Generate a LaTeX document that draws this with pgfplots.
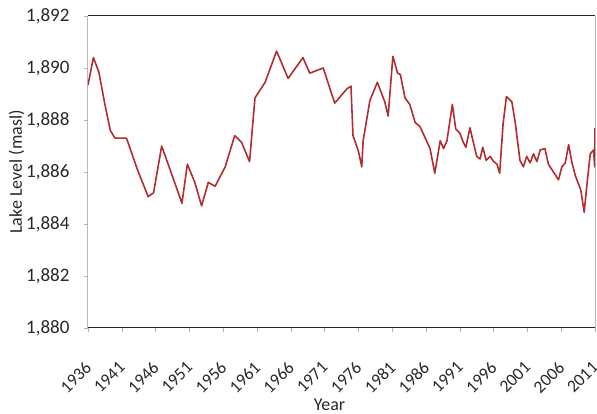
\documentclass[border=0pt]{standalone}
\usepackage{pgfplots}
\pgfplotsset{compat=1.18}
\usepackage{fontspec}
\setmainfont{Carlito}

\definecolor{lakered}{RGB}{178,44,48}
\definecolor{labelgray}{RGB}{40,40,40}

\pgfplotstableread{
year level
1936.0 1889.35
1936.8 1890.40
1937.6 1889.85
1938.5 1888.60
1939.3 1887.60
1940.0 1887.30
1941.7 1887.30
1943.3 1886.10
1944.9 1885.05
1945.7 1885.20
1946.9 1887.00
1948.4 1885.90
1949.9 1884.80
1950.7 1886.30
1951.8 1885.60
1952.8 1884.70
1953.8 1885.60
1954.8 1885.45
1956.3 1886.20
1957.7 1887.40
1958.7 1887.15
1959.9 1886.40
1960.7 1888.85
1962.2 1889.45
1963.9 1890.65
1965.6 1889.60
1967.8 1890.40
1968.8 1889.80
1970.8 1890.00
1971.8 1889.20
1972.5 1888.65
1974.3 1889.20
1974.9 1889.30
1975.2 1887.40
1976.0 1886.80
1976.5 1886.20
1976.7 1887.20
1977.7 1888.75
1978.8 1889.45
1979.9 1888.70
1980.4 1888.15
1981.1 1890.45
1981.8 1889.80
1982.2 1889.75
1982.9 1888.85
1983.6 1888.60
1984.4 1887.90
1985.1 1887.75
1985.9 1887.30
1986.6 1886.90
1987.3 1885.95
1988.1 1887.20
1988.6 1886.90
1989.1 1887.20
1989.9 1888.60
1990.4 1887.65
1991.0 1887.50
1991.5 1887.15
1991.9 1886.95
1992.5 1887.70
1993.0 1887.15
1993.5 1886.60
1994.0 1886.50
1994.4 1886.95
1994.9 1886.45
1995.5 1886.60
1996.0 1886.40
1996.5 1886.30
1996.9 1885.95
1997.4 1887.85
1997.9 1888.90
1998.7 1888.70
1999.2 1887.90
1999.9 1886.45
2000.4 1886.20
2000.9 1886.60
2001.4 1886.35
2001.9 1886.70
2002.4 1886.40
2002.9 1886.85
2003.6 1886.90
2004.1 1886.30
2004.6 1886.10
2005.1 1885.90
2005.6 1885.70
2006.1 1886.20
2006.6 1886.35
2007.1 1887.05
2007.6 1886.35
2008.1 1885.85
2008.9 1885.30
2009.4 1884.45
2009.8 1885.50
2010.3 1886.70
2010.8 1886.85
2010.95 1886.20
2011.0 1887.70
}\lakelevel

\begin{document}
\begin{tikzpicture}
\path[use as bounding box] (0pt,0pt) rectangle (597pt,414pt);
\begin{axis}[
  at={(88pt,86pt)}, anchor=south west,
  scale only axis,
  width=507pt, height=312pt,
  xmin=1936, xmax=2011,
  ymin=1880, ymax=1892,
  xtick={1936,1941,...,2011},
  ytick={1880,1882,...,1892},
  separate axis lines,
  x axis line style={black!85, line width=1pt},
  y axis line style={gray!55, line width=1pt},
  tick align=outside,
  major tick length=4pt,
  tick style={gray!60, line width=0.5pt},
  xtick pos=bottom, ytick pos=left,
  /pgf/number format/.cd, 1000 sep={,}, assume math mode=true,
  /pgfplots/.cd,
  x tick label style={/pgf/number format/1000 sep={}, yshift=-27pt, xshift=-4pt,
    rotate=45, anchor=north east,
    font=\fontsize{17.5}{20}\selectfont, text=labelgray, inner sep=1pt},
  y tick label style={font=\fontsize{19}{21}\selectfont, text=labelgray, xshift=-11pt},
  xlabel={Year},
  ylabel={Lake Level (masl)},
  label style={font=\fontsize{18}{20}\selectfont, text=labelgray},
  xlabel style={yshift=0pt, xshift=-12pt},
  ylabel style={yshift=-5pt},
]
\addplot[lakered, line width=1.6pt, line join=round, mark=none] table[x=year, y=level] {\lakelevel};
\end{axis}
\end{tikzpicture}
\end{document}
